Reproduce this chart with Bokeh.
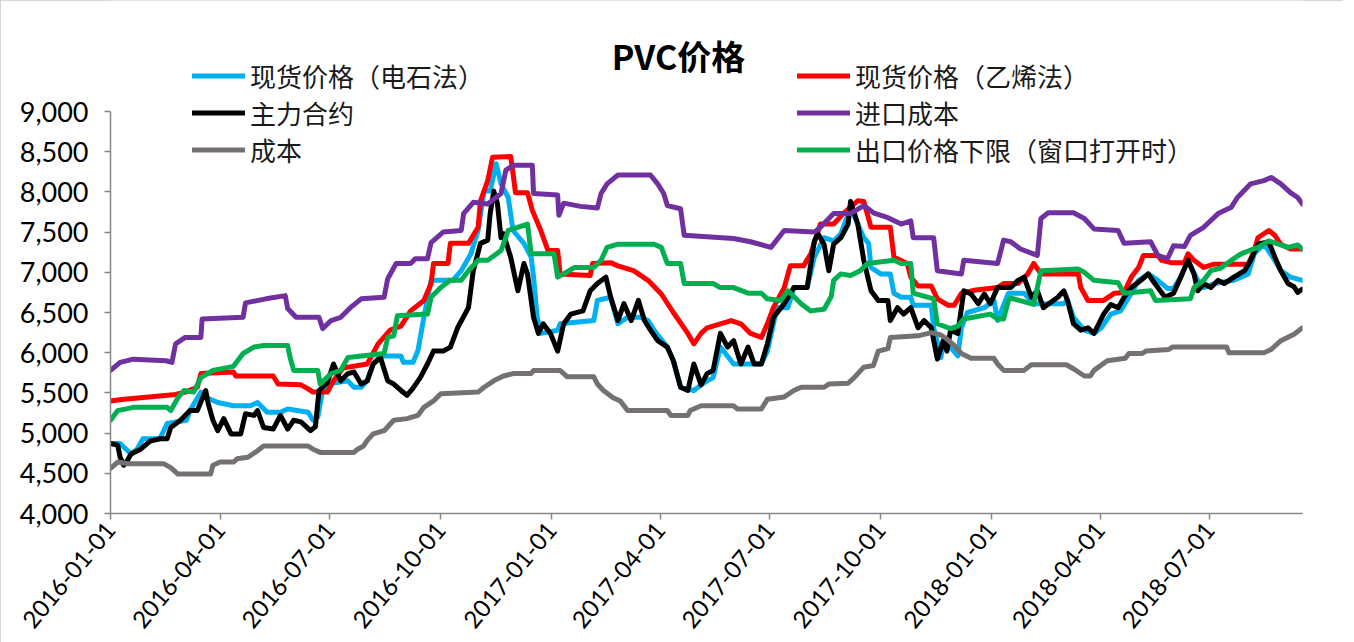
import math
import pandas as pd
from bokeh.plotting import figure
from bokeh.models import (Range1d, FixedTicker, DatetimeTickFormatter, NumeralTickFormatter,
                          Legend, LegendItem, Label, ColumnDataSource)
from bokeh.embed import file_html
from bokeh.resources import INLINE

# ---------------- data (day offsets from START, values in yuan/ton) ----------------
START = "2016-01-01"
END_DAY = 989
title_text = "PVC价格"
tick_dates = ["2016-01-01", "2016-04-01", "2016-07-01", "2016-10-01", "2017-01-01", "2017-04-01",
              "2017-07-01", "2017-10-01", "2018-01-01", "2018-04-01", "2018-07-01"]
y_ticks = [4000, 4500, 5000, 5500, 6000, 6500, 7000, 7500, 8000, 8500, 9000]

label_cyan = "现货价格（电石法）"
label_red = "现货价格（乙烯法）"
label_black = "主力合约"
label_purple = "进口成本"
label_gray = "成本"
label_green = "出口价格下限（窗口打开时）"

cyan_days = [0, 8, 17, 22, 27, 41, 47, 63, 66, 75,
             80, 89, 102, 116, 122, 130, 141, 147, 164, 168,
             172, 176, 180, 197, 202, 208, 213, 218, 224, 241,
             243, 251, 255, 260, 266, 284, 291, 299, 305, 310,
             315, 320, 324, 330, 334, 343, 349, 351, 354, 357,
             371, 373, 401, 404, 415, 421, 429, 440, 446, 451,
             462, 467, 473, 484, 490, 495, 500, 506, 517, 540,
             545, 553, 562, 567, 578, 584, 592, 600, 606, 614,
             620, 625, 629, 631, 639, 647, 650, 656, 664, 666,
             681, 683, 689, 691, 697, 703, 706, 711, 725, 733,
             736, 745, 758, 766, 791, 794, 799, 808, 816, 822,
             830, 838, 845, 853, 861, 869, 877, 882, 888, 894,
             902, 907, 916, 932, 944, 949, 957, 966, 971, 979,
             989]
cyan_vals = [4870, 4870, 4740, 4800, 4930, 4930, 5120, 5160, 5280, 5510,
             5440, 5380, 5340, 5340, 5380, 5260, 5260, 5300, 5260, 5160,
             5200, 5530, 5610, 5650, 5570, 5570, 5650, 5860, 5960, 5960,
             5880, 5880, 6020, 6440, 6900, 6900, 7020, 7230, 7520, 8010,
             8010, 8350, 8100, 7930, 7520, 7360, 7190, 6940, 6440, 6240,
             6280, 6360, 6400, 6650, 6690, 6360, 6440, 6440, 6400, 6280,
             6070, 5900, 5570, 5530, 5600, 5650, 5690, 6070, 5860, 5860,
             6020, 6560, 6560, 6810, 6810, 7190, 7430, 7390, 7480, 7800,
             7600, 7430, 7360, 7060, 6980, 6980, 6740, 6690, 6690, 6590,
             6590, 6310, 5940, 6150, 6070, 5960, 6310, 6500, 6560, 6650,
             6400, 6740, 6740, 6610, 6610, 6650, 6440, 6280, 6240, 6310,
             6480, 6520, 6690, 6900, 6980, 6900, 6800, 6800, 6940, 7150,
             6900, 6810, 6860, 6900, 6980, 7230, 7350, 7150, 7020, 6940,
             6900]

red_days = [0, 11, 25, 54, 62, 72, 75, 102, 104, 135,
            139, 158, 164, 168, 180, 185, 193, 213, 222, 232,
            241, 249, 260, 266, 268, 280, 282, 297, 305, 307,
            313, 317, 332, 334, 336, 346, 350, 357, 363, 371,
            373, 398, 400, 415, 421, 434, 446, 457, 467, 479,
            484, 490, 495, 515, 523, 531, 540, 545, 550, 559,
            564, 575, 581, 589, 600, 608, 620, 625, 631, 647,
            650, 661, 664, 670, 681, 686, 695, 700, 706, 718,
            736, 741, 753, 761, 766, 772, 803, 805, 811, 824,
            833, 841, 847, 853, 857, 869, 872, 880, 891, 894,
            899, 907, 915, 944, 949, 952, 961, 966, 971, 979,
            989]
red_vals = [5400, 5420, 5440, 5480, 5510, 5570, 5740, 5760, 5710, 5710,
            5610, 5600, 5550, 5510, 5510, 5650, 5810, 5860, 6110, 6280,
            6330, 6520, 6650, 6860, 7110, 7110, 7360, 7360, 7560, 7890,
            8140, 8430, 8440, 8230, 7990, 7990, 7770, 7520, 7270, 7270,
            6980, 6960, 7110, 7120, 7080, 7020, 6900, 6730, 6500, 6240,
            6110, 6240, 6310, 6400, 6360, 6240, 6190, 6360, 6560, 6810,
            7080, 7080, 7230, 7600, 7600, 7730, 7890, 7880, 7560, 7560,
            7190, 7110, 6940, 6830, 6830, 6670, 6590, 6590, 6740, 6780,
            6810, 6860, 6860, 6980, 7110, 6980, 6980, 6810, 6650, 6650,
            6740, 6750, 6940, 7060, 7210, 7210, 7150, 7120, 7120, 7230,
            7150, 7060, 7100, 7100, 7270, 7430, 7520, 7460, 7350, 7290,
            7290]

black_days = [0, 6, 8, 11, 14, 17, 25, 33, 41, 47,
              50, 58, 66, 72, 79, 81, 85, 89, 94, 100,
              108, 112, 119, 122, 127, 135, 141, 147, 152, 158,
              166, 170, 173, 180, 185, 191, 197, 202, 208, 213,
              218, 224, 230, 235, 241, 246, 251, 257, 263, 268,
              276, 282, 288, 297, 301, 307, 313, 315, 318, 321,
              324, 326, 332, 338, 343, 346, 351, 355, 359, 365,
              371, 376, 382, 392, 398, 404, 411, 415, 421, 426,
              432, 438, 443, 448, 454, 462, 467, 473, 479, 484,
              490, 495, 500, 506, 512, 517, 523, 529, 534, 540,
              545, 550, 559, 567, 578, 584, 587, 592, 596, 600,
              606, 612, 614, 620, 625, 631, 637, 645, 647, 653,
              658, 664, 670, 675, 681, 686, 691, 694, 697, 703,
              708, 714, 720, 725, 730, 736, 747, 753, 758, 764,
              769, 774, 786, 791, 794, 799, 805, 811, 816, 820,
              824, 830, 836, 841, 847, 855, 861, 866, 875, 882,
              888, 894, 899, 902, 907, 913, 919, 924, 932, 941,
              946, 952, 961, 966, 971, 977, 982, 985, 989]
black_vals = [4870, 4850, 4700, 4600, 4660, 4740, 4800, 4900, 4930, 4930,
              5070, 5160, 5280, 5280, 5530, 5370, 5160, 5030, 5180, 4990,
              4990, 5240, 5220, 5280, 5070, 5050, 5220, 5050, 5160, 5140,
              5030, 5080, 5530, 5630, 5860, 5650, 5740, 5760, 5610, 5650,
              5860, 5940, 5650, 5610, 5530, 5470, 5560, 5690, 5860, 6020,
              6020, 6070, 6310, 6560, 7020, 7360, 7400, 7730, 8010, 7860,
              7430, 7480, 7190, 6770, 7110, 6980, 6440, 6240, 6360, 6240,
              6020, 6360, 6480, 6520, 6770, 6860, 6940, 6690, 6400, 6610,
              6400, 6650, 6400, 6280, 6150, 6070, 5900, 5570, 5530, 5860,
              5600, 5740, 5780, 6240, 6070, 6150, 5860, 6070, 5860, 5860,
              6110, 6440, 6610, 6810, 6810, 7390, 7480, 7350, 7020, 7350,
              7430, 7600, 7880, 7600, 7150, 6770, 6650, 6650, 6400, 6560,
              6480, 6560, 6310, 6400, 6310, 5920, 6150, 6020, 6280, 6240,
              6770, 6730, 6610, 6730, 6610, 6810, 6810, 6900, 6940, 6690,
              6770, 6560, 6690, 6770, 6650, 6360, 6280, 6310, 6240, 6360,
              6480, 6600, 6560, 6690, 6810, 6900, 6980, 6870, 6690, 6740,
              6940, 7150, 6980, 6770, 6860, 6810, 6900, 6860, 6940, 7020,
              7150, 7350, 7380, 7190, 7020, 6860, 6820, 6750, 6790]

purple_days = [0, 8, 19, 46, 51, 54, 62, 75, 76, 110,
               112, 129, 145, 147, 154, 173, 176, 183, 191, 199,
               208, 227, 230, 237, 249, 253, 263, 266, 276, 291,
               293, 301, 313, 324, 328, 334, 350, 351, 371, 372,
               376, 390, 404, 407, 412, 421, 448, 454, 459, 462,
               473, 476, 517, 531, 548, 559, 584, 589, 600, 614,
               625, 633, 645, 656, 664, 666, 683, 686, 706, 708,
               736, 741, 747, 755, 769, 772, 778, 799, 808, 816,
               836, 841, 863, 869, 877, 882, 891, 896, 907, 919,
               930, 935, 946, 957, 963, 971, 979, 985, 989]
purple_vals = [5780, 5880, 5920, 5900, 5880, 6110, 6190, 6190, 6420, 6440,
               6620, 6670, 6710, 6550, 6440, 6440, 6300, 6400, 6440, 6560,
               6670, 6690, 6920, 7110, 7110, 7170, 7170, 7370, 7500, 7520,
               7730, 7870, 7850, 7980, 8270, 8330, 8330, 7980, 7960, 7710,
               7860, 7820, 7800, 7980, 8100, 8210, 8210, 8100, 7980, 7830,
               7790, 7460, 7420, 7380, 7310, 7520, 7500, 7560, 7730, 7730,
               7830, 7740, 7680, 7600, 7640, 7430, 7430, 7020, 6980, 7150,
               7110, 7400, 7380, 7290, 7210, 7670, 7740, 7740, 7670, 7540,
               7520, 7360, 7380, 7210, 7170, 7330, 7320, 7460, 7560, 7730,
               7810, 7930, 8100, 8140, 8180, 8100, 7990, 7930, 7850]

gray_days = [0, 6, 14, 44, 50, 56, 83, 85, 91, 102,
             105, 114, 122, 127, 164, 168, 174, 202, 205, 210,
             213, 218, 227, 235, 246, 255, 260, 268, 274, 305,
             310, 318, 326, 334, 349, 351, 373, 379, 401, 404,
             409, 417, 423, 429, 462, 465, 479, 481, 490, 517,
             520, 540, 545, 559, 567, 573, 592, 596, 612, 617,
             625, 633, 637, 645, 647, 670, 681, 689, 694, 700,
             706, 714, 733, 736, 741, 758, 764, 793, 799, 808,
             813, 816, 827, 842, 845, 856, 859, 878, 881, 926,
             928, 957, 963, 971, 982, 989]
gray_vals = [4560, 4640, 4620, 4620, 4570, 4490, 4490, 4600, 4640, 4640,
             4680, 4700, 4780, 4840, 4840, 4800, 4760, 4760, 4800, 4840,
             4910, 4990, 5030, 5160, 5180, 5220, 5320, 5400, 5490, 5510,
             5570, 5650, 5710, 5740, 5740, 5780, 5780, 5700, 5700, 5610,
             5530, 5440, 5400, 5280, 5280, 5220, 5220, 5280, 5340, 5340,
             5300, 5300, 5420, 5450, 5530, 5570, 5570, 5610, 5620, 5690,
             5820, 5840, 6020, 6050, 6190, 6210, 6250, 6220, 6170, 6090,
             5990, 5930, 5930, 5860, 5780, 5780, 5850, 5850, 5800, 5710,
             5710, 5780, 5900, 5930, 5990, 5990, 6020, 6040, 6070, 6070,
             6000, 6000, 6040, 6150, 6230, 6310]

green_days = [0, 6, 19, 47, 50, 56, 61, 69, 75, 85,
              102, 110, 119, 127, 147, 149, 152, 172, 174, 183,
              191, 197, 227, 230, 235, 238, 263, 266, 274, 282,
              291, 297, 305, 313, 324, 330, 334, 346, 349, 368,
              371, 376, 385, 401, 407, 412, 421, 451, 457, 462,
              473, 476, 500, 506, 517, 529, 540, 545, 556, 562,
              567, 573, 581, 592, 598, 600, 606, 614, 622, 628,
              650, 656, 664, 666, 683, 686, 697, 703, 708, 730,
              736, 741, 745, 747, 766, 772, 803, 808, 816, 836,
              841, 863, 867, 896, 899, 907, 913, 921, 932, 938,
              952, 961, 969, 977, 985, 989]
green_vals = [5160, 5280, 5320, 5320, 5280, 5440, 5530, 5510, 5690, 5780,
              5830, 5990, 6070, 6090, 6090, 5940, 5780, 5780, 5610, 5740,
              5780, 5940, 5990, 6190, 6210, 6460, 6480, 6690, 6810, 6900,
              6900, 7020, 7150, 7150, 7270, 7520, 7540, 7600, 7230, 7230,
              6940, 6980, 7060, 7060, 7150, 7310, 7350, 7350, 7310, 7110,
              7110, 6860, 6860, 6810, 6810, 6740, 6740, 6670, 6650, 6770,
              6700, 6610, 6520, 6540, 6700, 6900, 6980, 6960, 7020, 7110,
              7150, 7110, 7110, 6740, 6670, 6360, 6300, 6330, 6420, 6480,
              6420, 6420, 6650, 6680, 6600, 7020, 7040, 7000, 6900, 6870,
              6740, 6770, 6650, 6670, 6810, 6900, 7020, 7050, 7170, 7230,
              7310, 7390, 7350, 7310, 7340, 7290]

# ---------------- figure ----------------
start_ts = pd.Timestamp(START)


def to_dates(days):
    return [start_ts + pd.Timedelta(days=int(d)) for d in days]


AXIS_COLOR = "#868686"
W, H = 1343, 642
FRAME_L, FRAME_R, FRAME_B = 110, 1302, 513   # frame in canvas pixels
Y9000_PX = 111                                # canvas row of the 9,000 tick
px_per_unit = (FRAME_B - Y9000_PX) / (y_ticks[-1] - y_ticks[0])
y_top = y_ticks[-1] + Y9000_PX / px_per_unit  # frame reaches canvas top so annotations are not clipped

p = figure(width=W, height=H, x_axis_type="datetime",
           output_backend="svg", toolbar_location=None,
           min_border_left=FRAME_L, min_border_right=W - FRAME_R,
           min_border_top=0, min_border_bottom=H - FRAME_B)
p.x_range = Range1d(start=start_ts, end=start_ts + pd.Timedelta(days=END_DAY))
p.y_range = Range1d(start=y_ticks[0], end=y_top)
p.outline_line_color = None
p.xgrid.grid_line_color = None
p.ygrid.grid_line_color = None
p.styles = {"outline": "1px solid #c8c8c8", "outline-offset": "-1px"}

# x axis
p.xaxis.ticker = FixedTicker(ticks=[pd.Timestamp(d).value // 10**6 for d in tick_dates])
fmt = "%Y-%m-%d"
p.xaxis.formatter = DatetimeTickFormatter(milliseconds=fmt, seconds=fmt, minsec=fmt, minutes=fmt,
                                          hourmin=fmt, hours=fmt, days=fmt, months=fmt, years=fmt)
p.xaxis.major_label_orientation = math.radians(50)
p.xaxis.major_label_standoff = 6

# y axis
p.yaxis.ticker = FixedTicker(ticks=y_ticks)
p.yaxis.bounds = (y_ticks[0], y_ticks[-1])
p.yaxis.formatter = NumeralTickFormatter(format="0,0")
p.yaxis.major_label_standoff = 16

for ax in (p.xaxis[0], p.yaxis[0]):
    ax.axis_line_color = AXIS_COLOR
    ax.axis_line_width = 1.5
    ax.major_tick_line_color = AXIS_COLOR
    ax.major_tick_line_width = 1.5
    ax.major_tick_in = 0
    ax.major_tick_out = 6
    ax.minor_tick_line_color = None
    ax.major_label_text_font = "Lato"
    ax.major_label_text_color = "#000000"
p.xaxis.major_label_text_font_size = "24px"
p.yaxis.major_label_text_font_size = "27px"

series = [
    (label_cyan, "#00B0F0", cyan_days, cyan_vals),
    (label_red, "#FF0000", red_days, red_vals),
    (label_black, "#000000", black_days, black_vals),
    (label_purple, "#7030A0", purple_days, purple_vals),
    (label_gray, "#767171", gray_days, gray_vals),
    (label_green, "#00B050", green_days, green_vals),
]

renderers = {}
for label, color, days, vals in series:
    src = ColumnDataSource(data=dict(x=to_dates(days), y=vals))
    r = p.line("x", "y", source=src, line_color=color, line_width=5,
               line_join="round", line_cap="round")
    renderers[label] = r


def make_legend(labels, loc):
    return Legend(items=[LegendItem(label=lb, renderers=[renderers[lb]]) for lb in labels],
                  location=loc, orientation="vertical",
                  glyph_width=53, glyph_height=35, label_height=35, label_standoff=5,
                  spacing=0, padding=0, margin=0,
                  border_line_color=None, background_fill_alpha=0,
                  label_text_font="Noto Sans CJK SC", label_text_font_size="26px",
                  label_text_color="#1a1a1a")


# legend boxes: bottom-left corner, measured in pixels from the frame's bottom-left corner
p.add_layout(make_legend([label_cyan, label_black, label_gray], (192 - FRAME_L, FRAME_B - 168)))
p.add_layout(make_legend([label_red, label_purple, label_green], (797 - FRAME_L, FRAME_B - 168)))

p.add_layout(Label(x=678 - FRAME_L, y=FRAME_B - 55, x_units="screen", y_units="screen",
                   text=title_text, text_font="Noto Sans CJK SC", text_font_size="34px",
                   text_font_style="bold", text_align="center", text_baseline="middle",
                   text_color="#000000"))

open("out.html", "w").write(file_html(p, INLINE))
